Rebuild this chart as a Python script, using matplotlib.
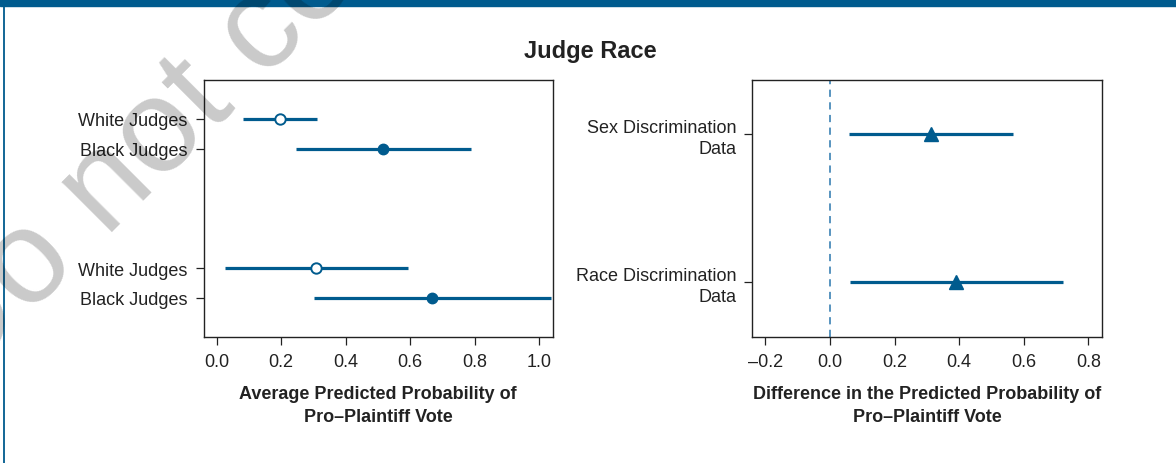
import matplotlib.pyplot as plt
from matplotlib.patches import Rectangle
from matplotlib.lines import Line2D
from matplotlib.ticker import FuncFormatter

plt.rcParams['font.family'] = ['Liberation Sans', 'DejaVu Sans']

# left panel: average predicted probability (top group, bottom group)
group_labels = ['White Judges', 'Black Judges', 'White Judges', 'Black Judges']
white_est = [0.196, 0.308]
white_lo = [0.082, 0.026]
white_hi = [0.312, 0.592]
black_est = [0.515, 0.668]
black_lo = [0.247, 0.301]
black_hi = [0.787, 1.035]

# right panel: difference (black - white)
diff_labels = ['Sex Discrimination\nData', 'Race Discrimination\nData']
diff_est = [0.312, 0.391]
diff_lo = [0.060, 0.061]
diff_hi = [0.565, 0.720]

blue = '#005B8E'
W, H = 1176, 464

fig = plt.figure(figsize=(W / 100, H / 100), dpi=100)

# top bar and left rule
fig.patches.append(Rectangle((0, 1 - 7 / H), 1, 7 / H, transform=fig.transFigure,
                             color=blue, zorder=0))
fig.lines.append(Line2D([3.5 / W, 3.5 / W], [0, 1 - 7 / H], transform=fig.transFigure,
                        color=blue, lw=1.3))

def dash_minus(v, pos):
    return ('%.1f' % v).replace('-', '\u2013')

def style(ax):
    for s in ax.spines.values():
        s.set_linewidth(1.0)
        s.set_color('#222222')
    ax.tick_params(direction='out', length=5.5, width=0.9, color='#222222',
                   labelsize=13, labelcolor='#222222', pad=6)
    ax.xaxis.set_major_formatter(FuncFormatter(dash_minus))

# ---- left panel
ax1 = fig.add_axes([203.6 / W, 1 - 337.7 / H, 349 / W, 256.7 / H])
y_white = [7, 2]
y_black = [6, 1]
ax1.hlines(y_white, white_lo, white_hi, color=blue, lw=2.3, zorder=2)
ax1.hlines(y_black, black_lo, black_hi, color=blue, lw=2.3, zorder=2)
ax1.plot(white_est, y_white, 'o', ms=7.5, mfc='white', mec=blue, mew=1.4, zorder=3)
ax1.plot(black_est, y_black, 'o', ms=7.5, mfc=blue, mec=blue, zorder=3)
ax1.set_xlim(-0.04, 1.041)
ax1.set_ylim(-0.3, 8.3)
ax1.set_xticks([0, 0.2, 0.4, 0.6, 0.8, 1.0])
ax1.set_yticks([7, 6, 2, 1])
ax1.set_yticklabels(group_labels)
style(ax1)
ax1.set_xlabel('Average Predicted Probability of\nPro\u2013Plaintiff Vote',
               fontsize=13, fontweight='bold', color='#222222', labelpad=11,
               linespacing=1.45)

# ---- right panel
ax2 = fig.add_axes([752.3 / W, 1 - 337.7 / H, 349.4 / W, 256.7 / H])
y_diff = [2, 1]
ax2.axvline(0, color='#4A8BBA', lw=1.3, ls=(0, (4, 3)), zorder=1)
ax2.hlines(y_diff, diff_lo, diff_hi, color=blue, lw=2.3, zorder=2)
ax2.plot(diff_est, y_diff, '^', ms=9.5, color=blue, zorder=3)
ax2.set_xlim(-0.2406, 0.841)
ax2.set_ylim(0.634, 2.366)
ax2.set_xticks([-0.2, 0, 0.2, 0.4, 0.6, 0.8])
ax2.set_yticks(y_diff)
ax2.set_yticklabels(diff_labels, multialignment='right', linespacing=1.3)
style(ax2)
ax2.set_xlabel('Difference in the Predicted Probability of\nPro\u2013Plaintiff Vote',
               fontsize=13, fontweight='bold', color='#222222', labelpad=11,
               linespacing=1.45)

fig.text(0.502, 1 - 58 / H, 'Judge Race', ha='center', va='baseline',
         fontsize=17, fontweight='bold', color='#222222')

# watermark
fig.text(-41 / W, 1 - 385 / H, 'Do not copy', rotation=45, rotation_mode='anchor',
         ha='left', va='baseline', fontsize=96,
         color='black', alpha=0.21, zorder=10)

fig.savefig('out.png', dpi=100)
